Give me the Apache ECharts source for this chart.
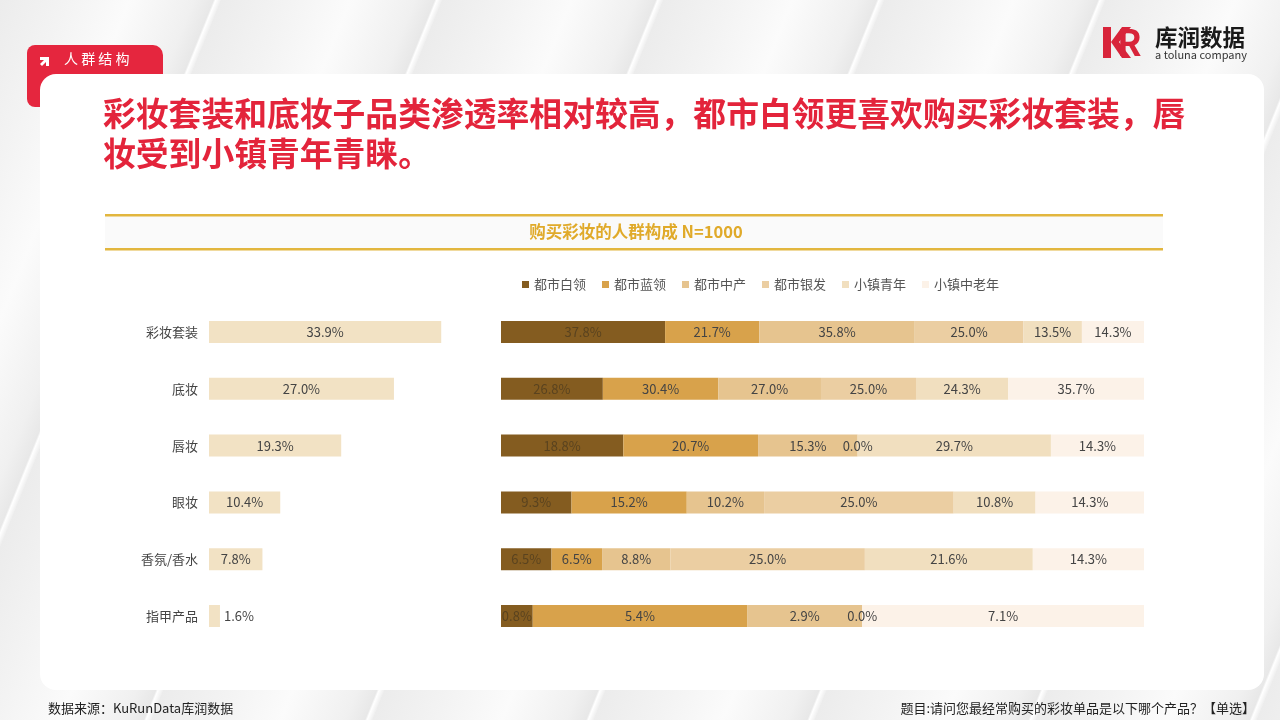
<!DOCTYPE html>
<html><head><meta charset="utf-8">
<script src="https://cdn.jsdelivr.net/npm/echarts@6/dist/echarts.min.js"></script>
<style>
html,body{margin:0;padding:0;width:1280px;height:720px;overflow:hidden;}
body{background:#eeeeee;background-image:repeating-linear-gradient(112deg,#ececec 0px,#f3f3f3 60px,#fbfbfb 120px,#f0f0f0 180px,#e8e8e8 198px,#ffffff 200px,#eeeeee 205px);}
#tab{position:absolute;left:27px;top:45px;width:136px;height:62px;background:#e5263e;border-radius:8px 10px 0 8px;}
#card{position:absolute;left:40px;top:74px;width:1224px;height:616px;background:#fff;border-radius:16px;}
#chart{position:absolute;left:0;top:0;width:1280px;height:720px;}
</style></head>
<body>
<div id="tab"></div><div id="card"></div>
<div id="chart"></div>
<script>
const categories = ['彩妆套装','底妆','唇妆','眼妆','香氛/香水','指甲产品'];
const penetration = [33.9, 27.0, 19.3, 10.4, 7.8, 1.6];
const groupNames = ['都市白领','都市蓝领','都市中产','都市银发','小镇青年','小镇中老年'];
const cityWhite  = [37.8, 26.8, 18.8, 9.3, 6.5, 0.8];
const cityBlue   = [21.7, 30.4, 20.7, 15.2, 6.5, 5.4];
const cityMiddle = [35.8, 27.0, 15.3, 10.2, 8.8, 2.9];
const citySilver = [25.0, 25.0, 0.0, 25.0, 25.0, 0.0];
const townYoung  = [13.5, 24.3, 29.7, 10.8, 21.6, null];
const townOld    = [14.3, 35.7, 14.3, 14.3, 14.3, 7.1];

const groups = [cityWhite, cityBlue, cityMiddle, citySilver, townYoung, townOld];
const colors = ['#845c20','#d8a24b','#e6c48f','#ebcea2','#f1dfbf','#fcf2e8'];
const rowSums = categories.map((c,i)=>groups.reduce((s,g)=>s+(g[i]||0),0));

const font = '"Noto Sans CJK SC", "Noto Sans", sans-serif';
const chart = echarts.init(document.getElementById('chart'));

const gridTop = 303.6, gridH = 340.8;

const stackSeries = groups.map((g,k)=>({
  name: groupNames[k], type:'bar', stack:'s', xAxisIndex:1, yAxisIndex:1,
  barWidth: 22, itemStyle:{color:colors[k]},
  label:{show:true, position:'inside', fontSize:13, fontFamily:font,
    color: k===0 ? '#5a431f' : '#444',
    formatter:p=> (p.data && p.data.raw!=null) ? p.data.raw.toFixed(1)+'%' : ''},
  data: g.map((v,i)=> v==null ? {value:null, raw:null} : {value:v/rowSums[i], raw:v})
}));

chart.setOption({
  animation:false,
  textStyle:{fontFamily:font},
  legend:{left:517, top:273, icon:'rect', itemWidth:7, itemHeight:7, itemGap:16,
    textStyle:{fontSize:13, color:'#555', fontFamily:font}, data:groupNames},
  grid:[
    {left:209, top:gridTop, width:274, height:gridH},
    {left:501, top:gridTop, width:643, height:gridH}
  ],
  xAxis:[
    {type:'value', gridIndex:0, min:0, max:40, show:false},
    {type:'value', gridIndex:1, min:0, max:1, show:false}
  ],
  yAxis:[
    {type:'category', gridIndex:0, data:categories, inverse:true,
      axisLine:{show:false}, axisTick:{show:false},
      axisLabel:{fontSize:13, color:'#444', margin:11, fontFamily:font}},
    {type:'category', gridIndex:1, data:categories, inverse:true, show:false}
  ],
  graphic:[
    {type:'text', left:64, top:52, style:{text:'人 群 结 构', fill:'#fff', font:'14px '+font}},
    {type:'polygon', shape:{points:[[40,57],[49,57],[49,66],[46,66],[46,62],[42,66],[40,64],[44,60],[40,60]]}, style:{fill:'#fff'}},
    {type:'text', x:103, y:114, style:{text:'彩妆套装和底妆子品类渗透率相对较高，都市白领更喜欢购买彩妆套装，唇', fill:'#e3243b', font:'bold 32.8px '+font, verticalAlign:'middle'}},
    {type:'text', x:103, y:154, style:{text:'妆受到小镇青年青睐。', fill:'#e3243b', font:'bold 32.8px '+font, verticalAlign:'middle'}},
    {type:'rect', shape:{x:105,y:216,width:1058,height:33}, style:{fill:'#fafafa'}},
    {type:'rect', shape:{x:105,y:214,width:1058,height:2.5}, style:{fill:'#e2b63e'}},
    {type:'rect', shape:{x:105,y:248,width:1058,height:2.5}, style:{fill:'#e2b63e'}},
    {type:'text', x:636, y:232, style:{text:'购买彩妆的人群构成 N=1000', fill:'#e0aa2a', font:'bold 16.5px '+font, align:'center', verticalAlign:'middle'}},
    {type:'rect', shape:{x:1103,y:27,width:8,height:31}, style:{fill:'#d8243a'}},
    {type:'polygon', shape:{points:[[1111,42],[1122,27],[1131,27],[1119,42],[1131,58],[1122,58]]}, style:{fill:'#d8243a'}},
    {type:'text', x:1117, y:42, style:{text:'R', fill:'#d8243a', font:'bold 36px '+font, verticalAlign:'middle'}},
    {type:'text', x:1155, y:37, style:{text:'库润数据', fill:'#1a1a1a', font:'bold 22.5px '+font, verticalAlign:'middle'}},
    {type:'text', x:1155, y:55, style:{text:'a toluna company', fill:'#333', font:'11px '+font, verticalAlign:'middle'}},
    {type:'text', x:48, y:708, style:{text:'数据来源：KuRunData库润数据', fill:'#222', font:'13px '+font, verticalAlign:'middle'}},
    {type:'text', x:1255, y:708, style:{text:'题目:请问您最经常购买的彩妆单品是以下哪个产品？【单选】', fill:'#222', font:'13px '+font, align:'right', verticalAlign:'middle'}}
  ],
  series:[
    {type:'bar', xAxisIndex:0, yAxisIndex:0, barWidth:22, itemStyle:{color:'#f2e2c4'},
      label:{show:true, position:'inside', fontSize:13, color:'#444', fontFamily:font, formatter:p=>p.value.toFixed(1)+'%'},
      data: penetration.map((v,i)=> i===penetration.length-1 ? {value:v, label:{position:'right', distance:4}} : v)},
    ...stackSeries
  ]
});
</script>
</body></html>
